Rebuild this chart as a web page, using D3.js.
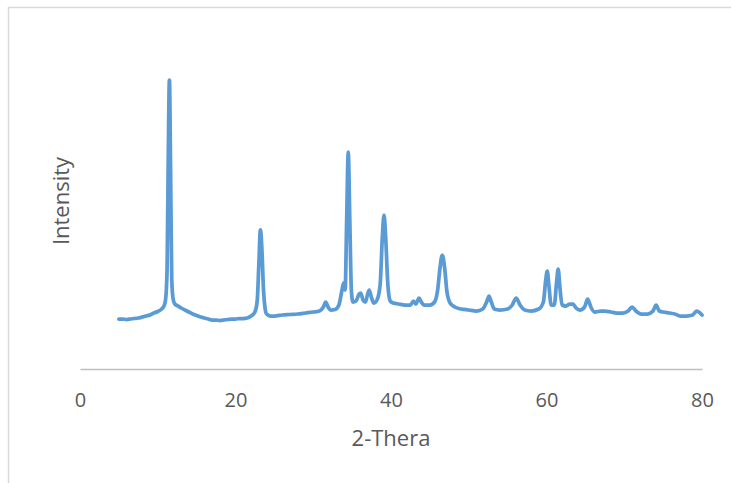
<!DOCTYPE html>
<html>
<head>
<meta charset="utf-8">
<script src="https://cdn.jsdelivr.net/npm/d3@7"></script>
<style>
  html, body { margin: 0; padding: 0; background: #fff; }
  svg { display: block; }
  text { font-family: "Open Sans", "Liberation Sans", sans-serif; fill: #595959; }
</style>
</head>
<body>
<svg id="chart" width="731" height="483"></svg>
<script>
(function () {
  "use strict";

  // 2-theta positions (degrees)
  const twoTheta = [
    5.0, 5.5, 6.0, 6.5, 7.0, 7.5, 8.0, 8.5, 9.0, 9.5, 10.0, 10.5, 10.8, 11.0, 11.2, 11.35, 11.5, 11.65, 11.8,
    12.0, 12.2, 12.6, 13.0, 13.5, 14.0, 14.5, 15.0, 15.5, 16.0, 16.5, 17.0, 17.5, 18.0, 18.5, 19.0, 19.5,
    20.0, 20.5, 21.0, 21.5, 22.0, 22.5, 22.8, 23.0, 23.2, 23.4, 23.6, 23.8, 24.0, 24.5, 25.0, 26.0, 27.0,
    28.0, 29.0, 30.0, 30.8, 31.3, 31.6, 31.9, 32.3, 32.8, 33.3, 33.7, 33.9, 34.1, 34.3, 34.5, 34.7, 34.9,
    35.1, 35.5, 35.9, 36.1, 36.4, 36.7, 37.0, 37.2, 37.5, 37.8, 38.2, 38.6, 38.9, 39.1, 39.3, 39.6, 39.9,
    40.3, 41.0, 41.8, 42.5, 42.9, 43.2, 43.6, 43.9, 44.3, 45.0, 45.6, 46.0, 46.3, 46.6, 46.9, 47.2, 47.6,
    48.2, 49.0, 50.0, 51.0, 51.8, 52.3, 52.6, 52.9, 53.3, 54.0, 55.0, 55.6, 56.1, 56.6, 57.2, 58.0, 59.0,
    59.6, 59.9, 60.1, 60.3, 60.6, 61.0, 61.3, 61.5, 61.7, 62.0, 62.5, 63.0, 63.4, 63.8, 64.3, 64.9, 65.3,
    65.7, 66.2, 67.0, 67.5, 68.3, 69.0, 69.8, 70.5, 71.0, 71.5, 72.2, 73.0, 73.7, 74.1, 74.5, 75.0, 75.8,
    76.5, 77.2, 78.0, 78.8, 79.3, 79.6, 80.0
  ];

  // intensity (counts, estimated)
  const intensity = [
    500, 500, 495, 500, 505, 510, 520, 530, 540, 560, 575, 600, 630, 690, 990, 2090, 2890, 1990, 890,
    690, 650, 630, 610, 590, 570, 550, 535, 520, 510, 500, 490, 490, 485, 490, 495, 500,
    500, 505, 505, 510, 530, 570, 690, 1040, 1390, 1190, 790, 610, 550, 530, 530, 540, 545,
    550, 560, 570, 580, 620, 670, 620, 590, 595, 640, 790, 860, 790, 1490, 2170, 1490, 790,
    670, 680, 750, 760, 690, 670, 750, 790, 710, 660, 690, 840, 1340, 1540, 1340, 840, 680,
    660, 650, 640, 640, 680, 650, 710, 670, 640, 640, 670, 790, 1010, 1140, 1010, 770, 660,
    620, 600, 590, 580, 600, 670, 730, 670, 600, 590, 600, 640, 710, 640, 590, 580, 600,
    670, 890, 980, 840, 640, 640, 870, 1000, 840, 640, 630, 650, 650, 610, 590, 620, 700,
    620, 570, 580, 580, 570, 560, 560, 580, 620, 580, 550, 550, 580, 640, 580, 570, 560,
    550, 530, 530, 540, 580, 570, 540
  ];

  const xTicks = [0, 20, 40, 60, 80];

  const data = twoTheta.map((t, i) => ({ x: t, y: intensity[i] }));

  const svg = d3.select("#chart");
  const W = 731, H = 483;

  // outer chart frame (only top/left edges fall inside the picture)
  svg.append("rect")
    .attr("x", 8.5).attr("y", 7.5)
    .attr("width", W + 20).attr("height", H - 6)
    .attr("fill", "none")
    .attr("stroke", "#d9d9d9")
    .attr("stroke-width", 1.5);

  const x = d3.scaleLinear().domain([0, 80]).range([80, 702]);
  const y = d3.scaleLinear().domain([0, 3390]).range([369, 30]);

  const xAxis = d3.axisBottom(x).tickValues(xTicks).tickSize(0).tickPadding(24);

  const gx = svg.append("g")
    .attr("transform", `translate(0,${y(0)})`)
    .call(xAxis);
  gx.select(".domain").attr("stroke", "#bfbfbf").attr("stroke-width", 1.5);
  gx.selectAll(".tick text")
    .attr("font-size", 20)
    .attr("fill", "#595959")
    .style("font-family", "'Open Sans', 'Liberation Sans', sans-serif");

  const line = d3.line()
    .x((d) => x(d.x))
    .y((d) => y(d.y))
    .curve(d3.curveMonotoneX);

  svg.append("path")
    .datum(data)
    .attr("fill", "none")
    .attr("stroke", "#5b9bd5")
    .attr("stroke-width", 3.75)
    .attr("stroke-linejoin", "round")
    .attr("stroke-linecap", "round")
    .attr("d", line);

  svg.append("text")
    .attr("x", 391).attr("y", 446)
    .attr("text-anchor", "middle")
    .attr("font-size", 22)
    .text("2-Thera");

  svg.append("text")
    .attr("transform", "translate(69,201) rotate(-90)")
    .attr("text-anchor", "middle")
    .attr("font-size", 22)
    .text("Intensity");
})();
</script>
</body>
</html>
